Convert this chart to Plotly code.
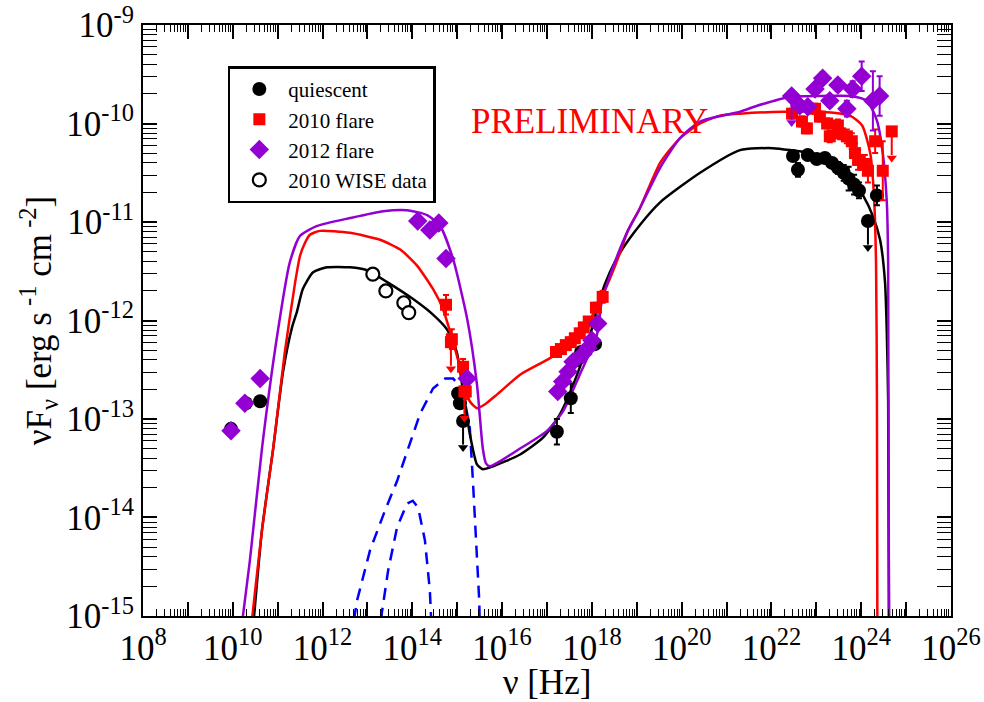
import plotly.graph_objects as go

# ---------------- data (log10 values) ----------------
# quiescent (filled black circles)
q_lognu = [9.96, 10.29, 10.61, 15.02, 15.06, 17.22, 17.53, 17.67, 17.76, 18.07,
           22.48, 22.59, 22.81, 23.01, 23.19, 23.35, 23.48, 23.61, 23.72, 23.84, 23.95, 24.35]
q_logF = [-13.10, -12.84, -12.82, -12.74, -12.84, -13.13, -12.79, -12.40, -12.32, -12.24,
          -10.33, -10.47, -10.32, -10.36, -10.35, -10.40, -10.45, -10.50, -10.56, -10.62, -10.68, -10.73]
q_err = [0, 0, 0, 0, 0, 0.13, 0.15, 0.06, 0.05, 0.05,
         0.05, 0.07, 0.05, 0.05, 0.05, 0.05, 0.06, 0.08, 0.12, 0.10, 0.08, 0.10]
q_ul_lognu = [15.13, 24.15]
q_ul_logF = [-13.02, -10.99]

# 2010 flare (red squares)
r_lognu = [14.75, 14.88, 15.13, 15.19,
           17.20, 17.31, 17.42, 17.53, 17.62, 17.73, 17.82, 17.93, 18.09, 18.24,
           22.46, 22.68, 22.79, 22.97, 23.08, 23.24, 23.30, 23.48, 23.53, 23.68,
           23.79, 23.86, 23.93, 24.08, 24.15, 24.31, 24.48]
r_logF = [-11.84, -12.19, -12.47, -12.72,
          -12.32, -12.29, -12.25, -12.22, -12.18, -12.13, -12.07, -12.01, -11.87, -11.76,
          -9.90, -9.98, -10.05, -9.85, -9.93, -10.00, -10.13, -10.02, -10.10, -10.13,
          -10.18, -10.30, -10.37, -10.42, -10.48, -10.18, -10.48]
r_err = [0.10, 0.10, 0.08, 0.08,
         0.03, 0.03, 0.03, 0.03, 0.03, 0.03, 0.03, 0.03, 0.05, 0.06,
         0.05, 0.05, 0.05, 0.05, 0.05, 0.05, 0.06, 0.06, 0.06, 0.07,
         0.08, 0.10, 0.10, 0.10, 0.12, 0.12, 0.30]
r_ul_lognu = [14.86, 15.16, 24.68]
r_ul_logF = [-12.22, -12.72, -10.08]

# 2012 flare (purple diamonds)
p_lognu = [9.96, 10.27, 10.61, 14.12, 14.39, 14.59, 14.75, 15.22,
           17.24, 17.35, 17.47, 17.58, 17.80, 17.91, 18.00, 18.13,
           22.63, 22.81, 22.97, 23.14, 23.30, 23.48, 23.68, 23.81, 24.01, 24.26, 24.41]
p_logF = [-13.12, -12.84, -12.59, -10.99, -11.08, -11.01, -11.37, -12.59,
          -12.72, -12.62, -12.52, -12.42, -12.34, -12.28, -12.20, -12.03,
          -9.82, -9.83, -9.65, -9.54, -9.77, -9.61, -9.85, -9.65, -9.52, -9.77, -9.72]
p_err = [0, 0, 0, 0, 0, 0, 0, 0,
         0.05, 0.05, 0.05, 0.05, 0.05, 0.05, 0.05, 0.05,
         0.05, 0.05, 0.05, 0.06, 0.06, 0.06, 0.08, 0.08, 0.15, 0.30, 0.20]
p_ul_lognu = [22.45]
p_ul_logF = [-9.72]

# 2010 WISE data (open circles)
w_lognu = [13.12, 13.41, 13.81, 13.92]
w_logF = [-11.53, -11.70, -11.82, -11.92]

# model curves
mq_lognu = [10.43, 10.65, 10.90, 11.12, 11.32, 11.43, 11.56, 11.79, 12.10, 12.61, 12.99, 13.44,
            14.01, 14.46, 14.77, 14.99, 15.13, 15.28, 15.44, 15.57, 15.80, 16.40, 16.91, 17.29,
            17.67, 17.96, 18.18, 18.40, 18.63, 19.07, 19.52, 20.41, 21.30, 22.03, 22.41, 23.15,
            23.68, 24.04, 24.26, 24.42, 24.53, 24.57, 24.60, 24.62]
mq_logF = [-15.24, -14.13, -13.30, -12.52, -12.07, -11.91, -11.68, -11.51, -11.46, -11.46, -11.49, -11.61,
           -11.78, -11.94, -12.09, -12.32, -12.72, -13.15, -13.46, -13.51, -13.48, -13.36, -13.19, -12.95,
           -12.55, -12.15, -11.77, -11.51, -11.31, -11.03, -10.80, -10.50, -10.27, -10.25, -10.27, -10.33,
           -10.50, -10.73, -10.94, -11.18, -11.61, -12.12, -12.82, -15.24]

mr_lognu = [10.38, 10.65, 10.90, 11.16, 11.39, 11.50, 11.61, 11.72, 11.94, 12.61, 13.28, 13.73,
            14.10, 14.46, 14.68, 14.91, 15.13, 15.28, 15.44, 15.62, 15.89, 16.40, 17.00, 17.29,
            17.89, 18.34, 18.63, 18.80, 19.07, 19.52, 19.96, 20.41, 20.85, 21.30, 22.26, 23.08,
            23.75, 24.02, 24.20, 24.28, 24.33, 24.35, 24.36]
mr_logF = [-15.24, -14.13, -13.30, -12.32, -11.61, -11.34, -11.21, -11.13, -11.09, -11.11, -11.18, -11.28,
           -11.44, -11.68, -11.88, -12.22, -12.59, -12.82, -12.89, -12.85, -12.75, -12.55, -12.40, -12.32,
           -12.04, -11.64, -11.31, -11.09, -10.86, -10.40, -10.15, -10.00, -9.92, -9.90, -9.88, -9.88,
           -9.92, -10.02, -10.30, -10.70, -11.41, -12.82, -15.24]

mp_lognu = [10.16, 10.38, 10.65, 10.99, 11.27, 11.50, 11.88, 12.61, 13.35, 13.88, 14.33, 14.62,
            14.91, 15.22, 15.44, 15.57, 15.64, 15.73, 16.40, 17.00, 17.36, 17.73, 18.11, 18.22,
            18.51, 18.80, 19.07, 19.52, 19.96, 20.41, 21.30, 21.68, 22.41, 23.15, 23.75, 24.13,
            24.35, 24.48, 24.57, 24.60, 24.62]
mp_logF = [-15.24, -14.44, -13.30, -12.15, -11.41, -11.14, -11.04, -10.96, -10.89, -10.88, -10.93, -11.04,
           -11.38, -11.98, -12.65, -13.30, -13.45, -13.48, -13.30, -13.12, -12.92, -12.55, -12.15, -11.81,
           -11.41, -11.09, -10.86, -10.45, -10.15, -9.98, -9.88, -9.82, -9.73, -9.72, -9.72, -9.77,
           -9.97, -10.30, -10.80, -11.41, -15.24]

# thermal components (blue dashed)
d1_lognu = [12.63, 12.77, 13.06, 13.39, 13.66, 13.88, 14.17, 14.46, 14.73, 14.91, 15.06, 15.17,
            15.28, 15.35, 15.42, 15.49, 15.51]
d1_logF = [-15.24, -14.84, -14.33, -13.93, -13.63, -13.33, -12.95, -12.69, -12.59, -12.59, -12.67, -12.82,
           -13.09, -13.63, -14.23, -14.84, -15.24]
d2_lognu = [13.28, 13.32, 13.46, 13.66, 13.88, 14.01, 14.13, 14.28, 14.39, 14.44]
d2_logF = [-15.24, -14.97, -14.54, -14.10, -13.86, -13.83, -13.90, -14.23, -14.74, -15.24]

x_label_decades = list(range(8, 27, 2))
x_odd_decades = list(range(9, 26, 2))
y_decades = list(range(-15, -8))

# ---------------- helpers ----------------
def lin(v):
    return [10.0 ** a for a in v]

def errs(logs, e):
    up = [10.0 ** (a + b) - 10.0 ** a for a, b in zip(logs, e)]
    dn = [10.0 ** a - 10.0 ** (a - b) for a, b in zip(logs, e)]
    return up, dn

SERIF = "Liberation Serif, Times New Roman, serif"
BLACK = "#000000"
RED = "#ff0000"
PURPLE = "#9400d3"
BLUE = "#0000ff"
UL_SHAFT = 0.24   # arrow length of upper limits, in dex
UL_TIP = 0.27

fig = go.Figure()

# model lines
for lx, ly, col, dash, shape in [
    (d1_lognu, d1_logF, BLUE, "12px,8px", "linear"),
    (d2_lognu, d2_logF, BLUE, "12px,8px", "linear"),
    (mq_lognu, mq_logF, BLACK, "solid", "spline"),
    (mr_lognu, mr_logF, RED, "solid", "spline"),
    (mp_lognu, mp_logF, PURPLE, "solid", "spline"),
]:
    fig.add_trace(go.Scatter(x=lin(lx), y=lin(ly), mode="lines", showlegend=False, hoverinfo="skip",
                             line=dict(color=col, width=2.5, dash=dash, shape=shape, smoothing=0.6)))

# data points
def add_points(lognu, logF, e, name, color, symbol, size, open_=False):
    marker = dict(color=color, symbol=symbol, size=size)
    if open_:
        marker = dict(color="white", symbol=symbol, size=size, line=dict(color=color, width=2.2))
    kw = {}
    if e is not None:
        up, dn = errs(logF, e)
        kw["error_y"] = dict(type="data", array=up, arrayminus=dn, color=color, thickness=2, width=3)
    fig.add_trace(go.Scatter(x=lin(lognu), y=lin(logF), mode="markers", name=name,
                             marker=marker, **kw))

add_points(q_lognu, q_logF, q_err, "quiescent", BLACK, "circle", 14)
add_points(r_lognu, r_logF, r_err, "2010 flare", RED, "square", 12)
add_points(p_lognu, p_logF, p_err, "2012 flare", PURPLE, "diamond", 15)
add_points(w_lognu, w_logF, None, "2010 WISE data", BLACK, "circle", 13, open_=True)

# upper limits: marker with a downward shaft and arrow head
for lognu, logF, color, symbol, size in [
    (q_ul_lognu, q_ul_logF, BLACK, "circle", 14),
    (r_ul_lognu, r_ul_logF, RED, "square", 12),
    (p_ul_lognu, p_ul_logF, PURPLE, "diamond", 15),
]:
    zeros = [0.0] * len(logF)
    _, shaft = errs(logF, [UL_SHAFT] * len(logF))
    fig.add_trace(go.Scatter(x=lin(lognu), y=lin(logF), mode="markers", showlegend=False,
                             marker=dict(color=color, symbol=symbol, size=size),
                             error_y=dict(type="data", array=zeros, arrayminus=shaft,
                                          color=color, thickness=2, width=0)))
    fig.add_trace(go.Scatter(x=lin(lognu), y=lin([b - UL_TIP for b in logF]), mode="markers",
                             showlegend=False, hoverinfo="skip",
                             marker=dict(color=color, symbol="triangle-down", size=9)))

fig.add_annotation(x=0.552, y=0.837, xref="paper", yref="paper", text="PRELIMINARY",
                   showarrow=False, font=dict(family=SERIF, size=35, color=RED),
                   xanchor="center", yanchor="middle")

x_text = [f"10<sup>{k}</sup>" for k in x_label_decades]
y_text = [f"10<sup>{k}</sup>" for k in y_decades]
x_minor = [m * 10.0 ** k for k in range(8, 26) for m in range(2, 10)]
y_minor = [m * 10.0 ** k for k in y_decades[:-1] for m in range(2, 10)]

X_RANGE = [7.9999, 26.0001]
Y_RANGE = [-15.0001, -8.9999]

axis_common = dict(type="log", showgrid=False, zeroline=False, showline=True, linewidth=2,
                   linecolor=BLACK, mirror="allticks", ticks="inside", ticklen=14, tickwidth=1.5,
                   tickcolor=BLACK, tickmode="array", automargin=False, ticklabeloverflow="allow")

fig.update_layout(
    xaxis=dict(**axis_common, range=X_RANGE, tickvals=lin(x_label_decades), ticktext=x_text,
               tickfont=dict(family=SERIF, size=35, color=BLACK),
               minor=dict(ticks="inside", ticklen=7, tickwidth=1.2, tickcolor=BLACK,
                          tickmode="array", tickvals=x_minor, showgrid=False),
               title=dict(text="ν [Hz]", font=dict(family=SERIF, size=35, color=BLACK), standoff=4)),
    # second x axis only carries the unlabelled ticks of the odd decades
    xaxis2=dict(type="log", overlaying="x", side="bottom", range=X_RANGE, showgrid=False,
                zeroline=False, showline=False, ticks="inside", ticklen=14, tickwidth=1.5,
                tickcolor=BLACK, mirror="allticks", tickmode="array", tickvals=lin(x_odd_decades),
                showticklabels=False, automargin=False),
    yaxis=dict(**axis_common, range=Y_RANGE, tickvals=lin(y_decades), ticktext=y_text,
               tickfont=dict(family=SERIF, size=35, color=BLACK),
               minor=dict(ticks="inside", ticklen=7, tickwidth=1.2, tickcolor=BLACK,
                          tickmode="array", tickvals=y_minor, showgrid=False),
               title=dict(text="νF<sub>ν</sub> [erg s<sup> -1</sup> cm<sup> -2</sup>]",
                          font=dict(family=SERIF, size=35, color=BLACK), standoff=4)),
)

# an invisible trace anchors the second x axis so its ticks are drawn
fig.add_trace(go.Scatter(x=[10.0 ** X_RANGE[0]], y=[10.0 ** Y_RANGE[0]], xaxis="x2", mode="markers",
                         marker=dict(opacity=0), showlegend=False, hoverinfo="skip"))

fig.update_layout(
    width=984, height=702,
    margin=dict(l=143, r=33, t=25, b=86),
    paper_bgcolor="white", plot_bgcolor="white",
    font=dict(family=SERIF, color=BLACK),
    legend=dict(x=0.105, y=0.93, xanchor="left", yanchor="top",
                bgcolor="white", bordercolor=BLACK, borderwidth=2.5,
                font=dict(family=SERIF, size=21, color=BLACK),
                itemwidth=48, tracegroupgap=0, entrywidth=178, entrywidthmode="pixels"),
)

fig.write_html("out.html", config={"displayModeBar": False},
               post_script="document.body.style.margin='0px';")
